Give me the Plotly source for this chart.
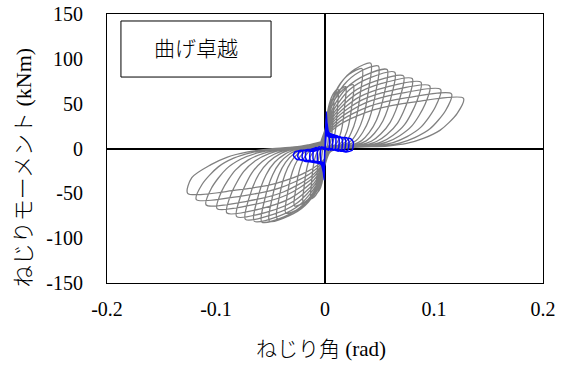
import plotly.graph_objects as go

# ---- gray series: twist angle (rad) / torsional moment (kNm), cycle by cycle ----
gray_theta = [
    # cycle 1
    -0.001, 0, 0.0005, 0.0014, 0.0026, 0.004, 0.0038, 0.0033, 0.0028, 0.0024, 0.0018, 0.0008,
    0.001, 0, -0.0005, -0.0014, -0.0026, -0.004, -0.0038, -0.0033, -0.0028, -0.0023, -0.0016, -0.0008, -0.0002,
    # cycle 2
    -0.001, 0, 0.001, 0.0028, 0.0052, 0.008, 0.0076, 0.0066, 0.0057, 0.0047, 0.0036, 0.0016,
    0.001, 0, -0.001, -0.0028, -0.0052, -0.008, -0.0076, -0.0066, -0.0057, -0.0046, -0.0032, -0.0016, -0.0005,
    # cycle 3
    -0.001, 0, 0.0014, 0.0042, 0.0078, 0.012, 0.0115, 0.010, 0.0085, 0.0071, 0.0054, 0.0024,
    0.001, 0, -0.0016, -0.0046, -0.0085, -0.013, -0.0124, -0.0108, -0.0092, -0.0074, -0.0052, -0.0026, -0.0008,
    # cycle 4
    -0.002, 0, 0.0023, 0.0067, 0.0124, 0.019, 0.0181, 0.0158, 0.0135, 0.0112, 0.0086, 0.0038,
    0.002, 0, -0.0024, -0.007, -0.013, -0.020, -0.0191, -0.0166, -0.0142, -0.0114, -0.008, -0.004, -0.0012,
    # cycle 5
    -0.002, 0, 0.0031, 0.0091, 0.0169, 0.026, 0.0248, 0.0216, 0.0185, 0.0153, 0.0117, 0.0052,
    0.002, 0, -0.0034, -0.0098, -0.0182, -0.028, -0.0267, -0.0232, -0.0199, -0.016, -0.0112, -0.0056, -0.0017,
    # cycle 6
    -0.002, 0, 0.0041, 0.0119, 0.0221, 0.034, 0.0325, 0.0282, 0.0241, 0.0201, 0.0153, 0.0068,
    0.002, 0, -0.0043, -0.0126, -0.0234, -0.036, -0.0344, -0.0299, -0.0256, -0.0205, -0.0144, -0.0072, -0.0022,
    # cycle 7
    -0.004, 0, 0.005, 0.0147, 0.0273, 0.042, 0.0401, 0.0349, 0.0298, 0.0248, 0.0189, 0.0084,
    0.004, 0, -0.0053, -0.0154, -0.0286, -0.044, -0.042, -0.0365, -0.0312, -0.0251, -0.0176, -0.0088, -0.0026,
    # cycle 8
    -0.004, 0, 0.0059, 0.0172, 0.0319, 0.049, 0.0468, 0.0407, 0.0348, 0.0289, 0.0221, 0.0098,
    0.004, 0, -0.0061, -0.0179, -0.0332, -0.051, -0.0487, -0.0423, -0.0362, -0.0291, -0.0204, -0.0102, -0.0031,
    # cycle 9
    -0.004, 0, 0.0068, 0.020, 0.0371, 0.057, 0.0544, 0.0473, 0.0405, 0.0336, 0.0257, 0.0114,
    0.004, 0, -0.007, -0.0203, -0.0377, -0.058, -0.0554, -0.0481, -0.0412, -0.0331, -0.0232, -0.0116, -0.0035,
    # cycle 10
    -0.004, 0, 0.0077, 0.0224, 0.0416, 0.064, 0.0611, 0.0531, 0.0454, 0.0378, 0.0288, 0.0128,
    0.004, 0, -0.0078, -0.0228, -0.0423, -0.065, -0.0621, -0.054, -0.0462, -0.0371, -0.026, -0.013, -0.0039,
    # cycle 11
    -0.004, 0, 0.0086, 0.0252, 0.0468, 0.072, 0.0688, 0.0598, 0.0511, 0.0425, 0.0324, 0.0144,
    0.004, 0, -0.0088, -0.0256, -0.0475, -0.073, -0.0697, -0.0606, -0.0518, -0.0416, -0.0292, -0.0146, -0.0044,
    # cycle 12
    -0.004, 0, 0.0096, 0.028, 0.052, 0.080, 0.0764, 0.0664, 0.0568, 0.0472, 0.036, 0.016,
    0.004, 0, -0.0097, -0.0284, -0.0527, -0.081, -0.0774, -0.0672, -0.0575, -0.0462, -0.0324, -0.0162, -0.0049,
    # cycle 13
    -0.004, 0, 0.0106, 0.0308, 0.0572, 0.088, 0.084, 0.073, 0.0625, 0.0519, 0.0396, 0.0176,
    0.004, 0, -0.0108, -0.0315, -0.0585, -0.090, -0.086, -0.0747, -0.0639, -0.0513, -0.036, -0.018, -0.0054,
    # cycle 14
    -0.004, 0, 0.0115, 0.0336, 0.0624, 0.096, 0.0917, 0.0797, 0.0682, 0.0566, 0.0432, 0.0192,
    0.004, 0, -0.0119, -0.0347, -0.0644, -0.099, -0.0945, -0.0822, -0.0703, -0.0564, -0.0396, -0.0198, -0.0059,
    # cycle 15
    -0.004, 0, 0.0127, 0.0371, 0.0689, 0.106, 0.1012, 0.088, 0.0753, 0.0625, 0.0477, 0.0212,
    0.004, 0, -0.0131, -0.0382, -0.0709, -0.109, -0.1041, -0.0905, -0.0774, -0.0621, -0.0436, -0.0218, -0.0065,
    # cycle 16
    -0.004, 0, 0.0139, 0.0406, 0.0754, 0.116, 0.1108, 0.0963, 0.0824, 0.0684, 0.0522, 0.0232,
    0.004, 0, -0.0142, -0.0413, -0.0767, -0.118, -0.1127, -0.0979, -0.0838, -0.0673, -0.0472, -0.0236, -0.0071,
    # cycle 17
    -0.004, 0, 0.0152, 0.0445, 0.0826, 0.127, 0.1213, 0.1054, 0.0902, 0.0749, 0.0572, 0.0254,
    0.004, 0, -0.0151, -0.0441, -0.0819, -0.126, -0.1222, -0.1046, -0.0895, -0.0718, -0.0504, -0.0252, -0.0076,
]
gray_moment = [
    # cycle 1
    2.5, 9.2, 21, 32.3, 39.1, 42, 29.4, 15.1, 8.4, 4.2, 2.1, 0.8,
    -2.3, -8.4, -19, -29.3, -35.3, -38, -26.6, -13.7, -7.2, -3, -0.4, 1.5, 3.4,
    # cycle 2
    3.4, 12.3, 28, 43.1, 52.1, 56, 39.2, 20.2, 11.2, 5.6, 2.8, 1.1,
    -3, -11, -25, -38.5, -46.5, -50, -35, -18, -9.5, -4, -0.5, 2, 4.5,
    # cycle 3
    4, 14.5, 33, 50.8, 61.4, 66, 46.2, 23.8, 13.2, 6.6, 3.3, 1.3,
    -3.4, -12.3, -28, -43.1, -52.1, -56, -39.2, -20.2, -10.6, -4.5, -0.6, 2.2, 5,
    # cycle 4
    4.1, 15.2, 34.5, 53.1, 64.2, 69, 48.3, 24.8, 13.8, 6.9, 3.5, 1.4,
    -3.6, -13.2, -30, -46.2, -55.8, -60, -42, -21.6, -11.4, -4.8, -0.6, 2.4, 5.4,
    # cycle 5
    4.3, 15.6, 35.5, 54.7, 66, 71, 49.7, 25.6, 14.2, 7.1, 3.6, 1.4,
    -3.8, -14.1, -32, -49.3, -59.5, -64, -44.8, -23, -12.2, -5.1, -0.6, 2.6, 5.8,
    # cycle 6
    5.3, 19.6, 44.5, 68.5, 82.8, 89, 62.3, 32, 17.8, 8.9, 4.5, 1.8,
    -4.3, -15.8, -36, -55.4, -67, -72, -50.4, -25.9, -13.7, -5.8, -0.7, 2.9, 6.5,
    # cycle 7
    5.7, 20.9, 47.5, 73.2, 88.4, 95, 66.5, 34.2, 19, 9.5, 4.8, 1.9,
    -4.7, -17.2, -39, -60.1, -72.5, -78, -54.6, -28.1, -14.8, -6.2, -0.8, 3.1, 7,
    # cycle 8
    5.5, 20.2, 46, 70.8, 85.6, 92, 64.4, 33.1, 18.4, 9.2, 4.6, 1.8,
    -4.9, -17.8, -40.5, -62.4, -75.3, -81, -56.7, -29.2, -15.4, -6.5, -0.8, 3.2, 7.3,
    # cycle 9
    5.3, 19.4, 44, 67.8, 81.8, 88, 61.6, 31.7, 17.6, 8.8, 4.4, 1.8,
    -4.9, -18, -41, -63.1, -76.3, -82, -57.4, -29.5, -15.6, -6.6, -0.8, 3.3, 7.4,
    # cycle 10
    5.1, 18.7, 42.5, 65.5, 79.1, 85, 59.5, 30.6, 17, 8.5, 4.3, 1.7,
    -4.9, -17.8, -40.5, -62.4, -75.3, -81, -56.7, -29.2, -15.4, -6.5, -0.8, 3.2, 7.3,
    # cycle 11
    4.9, 17.8, 40.5, 62.4, 75.3, 81, 56.7, 29.2, 16.2, 8.1, 4.1, 1.6,
    -4.7, -17.4, -39.5, -60.8, -73.5, -79, -55.3, -28.4, -15, -6.3, -0.8, 3.2, 7.1,
    # cycle 12
    4.7, 17.2, 39, 60.1, 72.5, 78, 54.6, 28.1, 15.6, 7.8, 3.9, 1.6,
    -4.6, -16.7, -38, -58.5, -70.7, -76, -53.2, -27.4, -14.4, -6.1, -0.8, 3, 6.8,
    # cycle 13
    4.4, 16.3, 37, 57, 68.8, 74, 51.8, 26.6, 14.8, 7.4, 3.7, 1.5,
    -4.3, -15.8, -36, -55.4, -67, -72, -50.4, -25.9, -13.7, -5.8, -0.7, 2.9, 6.5,
    # cycle 14
    4.2, 15.4, 35, 53.9, 65.1, 70, 49, 25.2, 14, 7, 3.5, 1.4,
    -4, -14.7, -33.5, -51.6, -62.3, -67, -46.9, -24.1, -12.7, -5.4, -0.7, 2.7, 6,
    # cycle 15
    4, 14.5, 33, 50.8, 61.4, 66, 46.2, 23.8, 13.2, 6.6, 3.3, 1.3,
    -3.8, -13.9, -31.5, -48.5, -58.6, -63, -44.1, -22.7, -12, -5, -0.6, 2.5, 5.7,
    # cycle 16
    3.7, 13.4, 30.5, 47, 56.7, 61, 42.7, 22, 12.2, 6.1, 3.1, 1.2,
    -3.4, -12.5, -28.5, -43.9, -53, -57, -39.9, -20.5, -10.8, -4.6, -0.6, 2.3, 5.1,
    # cycle 17
    3.4, 12.3, 28, 43.1, 52.1, 56, 39.2, 20.2, 11.2, 5.6, 2.8, 1.1,
    -3, -11, -25, -38.5, -46.5, -50, -32.5, -18, -9.5, -4, -0.5, 2, 4.5,
]

# ---- blue series ----
blue_theta = [
    0, 0.0012, 0.0022, 0.0028, 0.0036, 0.004, 0.0038, 0.003, 0.0016, 0.0004,
    0, -0.0008, -0.0022, -0.0028, -0.0036, -0.004, -0.0038, -0.003, -0.0016, -0.0004,
    0, 0.0012, 0.003, 0.0042, 0.0063, 0.007, 0.0067, 0.0053, 0.0028, 0.0007,
    0, -0.0008, -0.003, -0.0042, -0.0063, -0.007, -0.0067, -0.0053, -0.0028, -0.0007,
    0, 0.0012, 0.003, 0.006, 0.009, 0.010, 0.0096, 0.0075, 0.004, 0.001,
    0, -0.0008, -0.003, -0.0066, -0.0099, -0.011, -0.0106, -0.0083, -0.0044, -0.0011,
    0, 0.0012, 0.003, 0.0078, 0.0117, 0.013, 0.0125, 0.0098, 0.0052, 0.0013,
    0, -0.0008, -0.003, -0.0084, -0.0126, -0.014, -0.0134, -0.0105, -0.0056, -0.0014,
    0, 0.0012, 0.003, 0.0096, 0.0144, 0.016, 0.0154, 0.012, 0.0064, 0.0016,
    0, -0.0008, -0.003, -0.0108, -0.0162, -0.018, -0.0173, -0.0135, -0.0072, -0.0018,
    0, 0.0012, 0.003, 0.0114, 0.0171, 0.019, 0.0182, 0.0143, 0.0076, 0.0019,
    0, -0.0008, -0.003, -0.0126, -0.0189, -0.021, -0.0202, -0.0158, -0.0084, -0.0021,
    0, 0.0012, 0.003, 0.0132, 0.0198, 0.022, 0.0211, 0.0165, 0.0088, 0.0022,
    0, -0.0008, -0.003, -0.015, -0.0225, -0.025, -0.024, -0.0188, -0.010, -0.0025,
    0, 0.0012, 0.003, 0.0156, 0.0234, 0.026, 0.025, 0.0195, 0.0104, 0.0026,
    0, -0.0008, -0.003, -0.0174, -0.0261, -0.029, -0.0278, -0.0218, -0.0116, -0.0029,
]
blue_moment = [
    -1, 41, 18, 17, 16, 12, 0, -2, 0, -1,
    1, -35, -18, -17, -16, -12, 0, 2, 0, 1,
    -1, 33, 19, 17, 16, 12, 0, -2, 0, -1,
    1, -30, -19, -17, -16, -12, 0, 2, 0, 1,
    -1, 28, 18, 16, 15, 11, 0, -2, 0, -1,
    1, -26, -18, -16, -15, -11, -1, 1, -1, 1,
    -1, 25, 17, 15, 14, 10, 0, -2, 0, -1,
    1, -23, -18, -16, -15, -11, -2, 0, -1, 1,
    -1, 22, 16, 14, 13, 9, -1, -3, -1, -1,
    1, -21, -17, -15, -14, -10, -3, -1, -2, 1,
    -1, 20, 15, 13, 12, 9, -1, -3, -1, -1,
    1, -19, -17, -15, -14, -10, -3, -1, -2, 1,
    -1, 18, 14, 12, 12, 8, -2, -3, -1, -1,
    1, -17, -16, -14, -13, -9, -4, -2, -3, 0,
    -1, 17, 13, 12, 11, 7, -2, -4, -1, -1,
    1, -16, -15, -13, -12, -8, -4, -2, -3, 0,
]

x_ticks = [-0.2, -0.1, 0, 0.1, 0.2]
x_ticktext = ["-0.2", "-0.1", "0", "0.1", "0.2"]
y_ticks = [-150, -100, -50, 0, 50, 100, 150]
y_ticktext = ["-150", "-100", "-50", "0", "50", "100", "150"]

x_title = "ねじり角 (rad)"
y_title = "ねじりモーメント (kNm)"
label_text = "曲げ卓越"

FONT = "Liberation Serif, Times New Roman, serif"
CJK = "Liberation Serif, Noto Sans CJK JP, serif"

fig = go.Figure()
fig.add_trace(go.Scatter(
    x=gray_theta, y=gray_moment, mode="lines",
    line=dict(color="rgb(128,128,128)", width=1.3, shape="spline", smoothing=0.8),
    hoverinfo="skip", showlegend=False))
fig.add_trace(go.Scatter(
    x=blue_theta, y=blue_moment, mode="lines",
    line=dict(color="rgb(0,0,255)", width=1.5, shape="spline", smoothing=0.4),
    hoverinfo="skip", showlegend=False))

axis_common = dict(
    showgrid=False, zeroline=True, zerolinecolor="black", zerolinewidth=2,
    showline=True, mirror=True, linecolor="black", linewidth=1,
    ticks="outside", tickcolor="rgba(0,0,0,0)", automargin=False,
    tickfont=dict(family=FONT, size=20, color="black"),
)
fig.update_xaxes(range=[-0.2, 0.2], tickvals=x_ticks, ticktext=x_ticktext,
                 ticklen=8, **axis_common)
fig.update_yaxes(range=[-150, 150], tickvals=y_ticks, ticktext=y_ticktext,
                 ticklen=19, **axis_common)

# label box
fig.add_shape(type="rect", xref="x", yref="y", x0=-0.1872, x1=-0.0495, y0=79.7, y1=142.2,
              line=dict(color="black", width=1), fillcolor="white", layer="above")
fig.add_annotation(x=-0.1183, y=111, xref="x", yref="y", text=label_text, showarrow=False,
                   font=dict(family=CJK, size=21, color="black", weight=300))

# axis titles
fig.add_annotation(x=-0.193, y=0.43, xref="paper", yref="paper", text=y_title,
                   textangle=-90, showarrow=False, xanchor="center", yanchor="middle",
                   font=dict(family=CJK, size=22, color="black", weight=300))
fig.add_annotation(x=0.491, y=-0.245, xref="paper", yref="paper", text=x_title,
                   showarrow=False, xanchor="center", yanchor="middle",
                   font=dict(family=CJK, size=21, color="black", weight=300))

fig.update_layout(
    width=561, height=365,
    margin=dict(l=107, r=18, t=14, b=82),
    plot_bgcolor="white", paper_bgcolor="white",
    showlegend=False,
)

fig.write_html("out.html")
